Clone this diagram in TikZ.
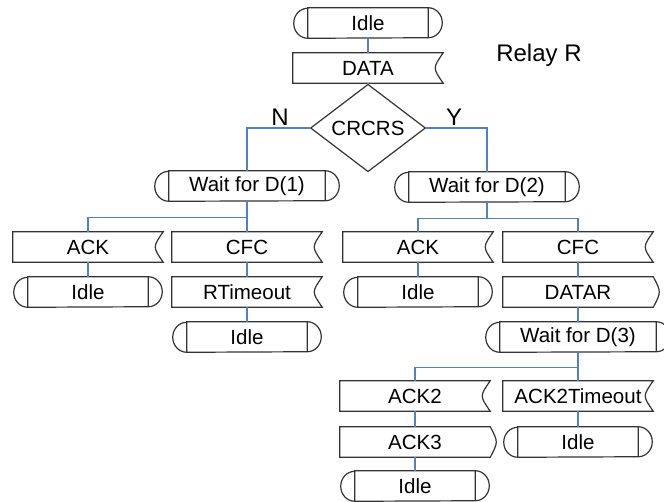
\documentclass[tikz,border=0pt]{standalone}
\usepackage{fontspec}
\setmainfont{Liberation Sans}
\usetikzlibrary{shapes.geometric}

\definecolor{linkblue}{RGB}{79,129,199}

\tikzset{
    every node/.style={font=\fontsize{15.4}{18}\selectfont},
    statebox/.style={rectangle, inner sep=0pt, minimum height=22.5pt, minimum width=90pt},
    waitbox/.style={statebox, minimum width=117pt},
    sigbox/.style={rectangle, inner sep=0pt, minimum height=22.5pt, minimum width=112.5pt},
    outline/.style={draw=black!80, line width=0.9pt},
    link/.style={draw=linkblue, line width=0.8pt},
    bigtext/.style={font=\fontsize{18}{21}\selectfont}
}

\begin{document}
\begin{tikzpicture}[x=0.75pt, y=-0.75pt]
    \useasboundingbox (0,0) rectangle (664,501);

    % Title and branch labels
    \node[bigtext] (title) at (539,55) {Relay R};
    \node[bigtext] (nlab) at (280,117) {N};
    \node[bigtext] (ylab) at (454,117) {Y};

    % Start
    \node[statebox] (idle0) at (368,23) {Idle};
    \node[sigbox] (data) at (368,68) {DATA};
    \node[diamond, draw=black!80, line width=0.9pt, inner sep=0pt,
          minimum width=86.25pt, minimum height=45pt] (crcrs) at (368,128) {CRCRS};

    % N branch
    \node[waitbox] (wait1) at (247,186) {Wait for D(1)};
    \node[sigbox] (ack1) at (88,247) {ACK};
    \node[sigbox] (cfc1) at (247,247) {CFC};
    \node[statebox] (idle1) at (88,292) {Idle};
    \node[sigbox] (rtime) at (247,292) {RTimeout};
    \node[statebox] (idle2) at (247,337) {Idle};

    % Y branch
    \node[waitbox] (wait2) at (487,187) {Wait for D(2)};
    \node[sigbox] (ackr) at (418,247) {ACK};
    \node[sigbox] (cfc2) at (578,247) {CFC};
    \node[statebox] (idle3) at (418,292) {Idle};
    \node[sigbox] (datar) at (578,292) {DATAR};
    \node[waitbox] (wait3) at (578,337) {Wait for D(3)};
    \node[sigbox] (ack2) at (415,396) {ACK2};
    \node[sigbox] (ack2to) at (578,396) {ACK2Timeout};
    \node[sigbox] (ack3) at (415,442) {ACK3};
    \node[statebox] (idle4) at (578,442) {Idle};
    \node[statebox] (idle5) at (415,486) {Idle};

    % State outlines
    \foreach \n in {idle0,wait1,wait2,idle1,idle2,idle3,wait3,idle4,idle5}
        \draw[outline] (\n.north west) -- (\n.north east)
            arc[start angle=90, end angle=-90, x radius=10.5pt, y radius=11.25pt]
            -- (\n.south west)
            arc[start angle=270, end angle=90, x radius=10.5pt, y radius=11.25pt] -- cycle
            (\n.north west) -- (\n.south west) (\n.north east) -- (\n.south east);

    % Input signal outlines
    \foreach \n in {data,ack1,cfc1,rtime,ackr,cfc2,ack2,ack2to}
        \draw[outline] (\n.north west) -- (\n.north east)
            .. controls ([xshift=-8pt]\n.east) .. (\n.south east)
            -- (\n.south west) -- cycle;

    % Output signal outlines
    \foreach \n in {datar,ack3}
        \draw[outline] (\n.north west) -- (\n.north east)
            .. controls ([xshift=6pt]\n.east) .. (\n.south east)
            -- (\n.south west) -- cycle;

    % Connectors
    \draw[link] (idle0) -- (data);
    \draw[link] (data) -- (crcrs);
    \draw[link] (crcrs.west) -| (wait1.north);
    \draw[link] (crcrs.east) -| (wait2.north);

    \draw[link] (wait1.south) -- ++(0,16) coordinate (b1) -| (ack1.north);
    \draw[link] (b1) -- (cfc1.north);
    \draw[link] (ack1) -- (idle1);
    \draw[link] (cfc1) -- (rtime);
    \draw[link] (rtime) -- (idle2);

    \draw[link] (wait2.south) -- ++(0,16) coordinate (b2) -| (ackr.north);
    \draw[link] (b2) -| (cfc2.north);
    \draw[link] (ackr) -- (idle3);
    \draw[link] (cfc2) -- (datar);
    \draw[link] (datar) -- (wait3);

    \draw[link] (wait3.south) -- ++(0,15) coordinate (b3) -| (ack2.north);
    \draw[link] (b3) -- (ack2to.north);
    \draw[link] (ack2) -- (ack3);
    \draw[link] (ack3) -- (idle5);
    \draw[link] (ack2to) -- (idle4);
\end{tikzpicture}
\end{document}
